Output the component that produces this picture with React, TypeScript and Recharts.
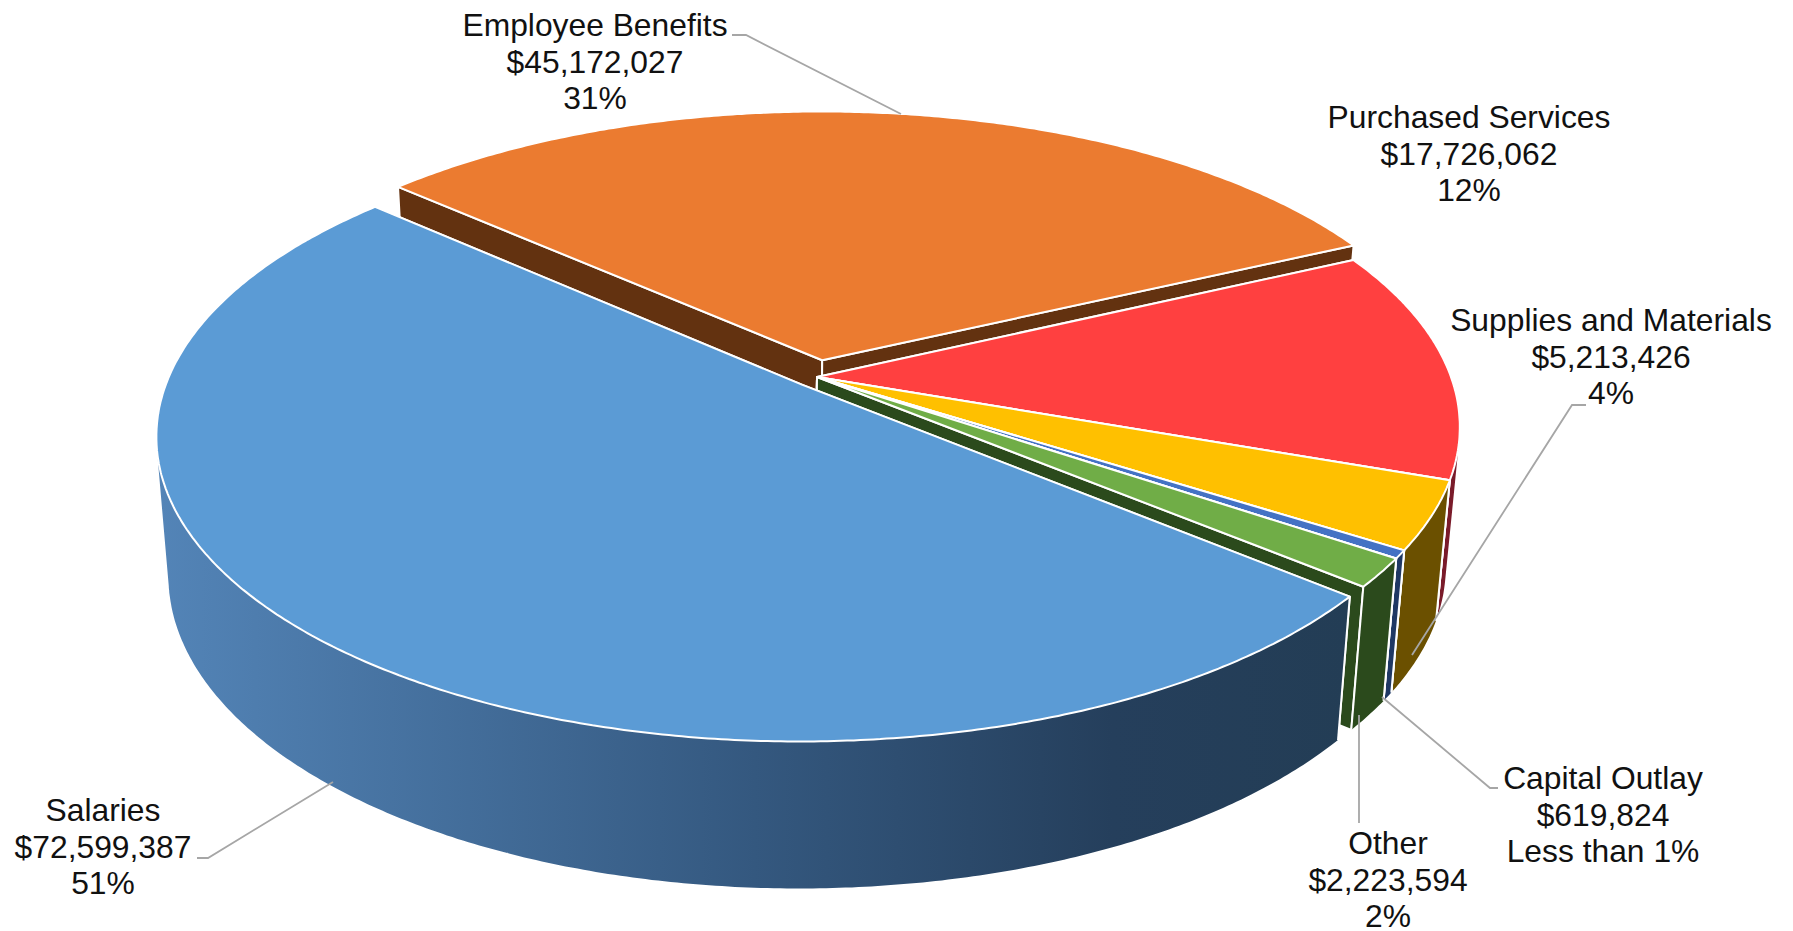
import { Pie, PieChart } from "recharts";

// Slices run clockwise starting from the back-left edge, so the front slice paints last.
const categories = ["Employee Benefits", "Purchased Services", "Supplies and Materials", "Capital Outlay", "Other", "Salaries"];
const amounts = [45172027, 17726062, 5213426, 619824, 2223594, 72599387];
const amountLabels = ["$45,172,027", "$17,726,062", "$5,213,426", "$619,824", "$2,223,594", "$72,599,387"];
const shareLabels = ["31%", "12%", "4%", "Less than 1%", "2%", "51%"];
const explosions = [0.058, 0, 0, 0, 0, 0.035];

const topColors = ["#EB7B30", "#FF4040", "#FFC000", "#4472C4", "#70AD47", "#5B9BD5"];
const wallColors = ["#633210", "#7A1B2A", "#6B5000", "#1F3864", "#2B4A1C", "url(#salaryWall)"];

// Label block centre and leader polyline for each slice
const labelCentres = [
  [595, 25],
  [1469, 117],
  [1611, 320],
  [1603, 778],
  [1388, 843],
  [103, 810],
];
const leaders = [
  "732,35 746,35 901,114",
  "",
  "1586,405 1572,405 1412,655",
  "1498,788 1490,788 1382,697",
  "1359,823 1359,715",
  "197,858 208,858 333,782",
];

const tableData = categories.map((name, i) => ({ name, value: amounts[i] }));

const CX = 817;
const CY = 377;
const RADIUS = 634;
const SQUASH = 0.4651; // vertical foreshortening of the disc
const PERSPECTIVE = 0.165;

type Pt = { x: number; y: number };

const project = (u: number, v: number): Pt => {
  const w = 1 - PERSPECTIVE * v;
  return { x: CX + (RADIUS * u) / w, y: CY + (RADIUS * SQUASH * v) / w };
};

// Where a point on the top face lands on the bottom face
const drop = (p: Pt): Pt => ({
  x: 760 + 0.98 * (p.x - 760),
  y: p.y + 147 + 0.025 * (p.y - 741),
});

const toPath = (pts: Pt[]) => "M" + pts.map((p) => `${p.x.toFixed(1)},${p.y.toFixed(1)}`).join("L") + "Z";

// Same winding for every strip, so the nonzero fill merges them without seams
const woundStrip = (a: Pt, b: Pt) => {
  const quad = [a, b, drop(b), drop(a)];
  let area = 0;
  quad.forEach((p, n) => {
    const q = quad[(n + 1) % 4];
    area += p.x * q.y - q.x * p.y;
  });
  return toPath(area < 0 ? quad.reverse() : quad);
};

function ThickSlice(props: any) {
  const { startAngle, endAngle } = props;
  const i = categories.indexOf(props.payload?.name ?? props.name);
  const mid = (((startAngle + endAngle) / 2) * Math.PI) / 180;
  const u0 = explosions[i] * Math.cos(mid);
  const v0 = -explosions[i] * Math.sin(mid);

  const arc: Pt[] = [];
  const front: Pt[] = []; // the part of the rim that faces the viewer
  const steps = Math.max(2, Math.ceil(Math.abs(startAngle - endAngle) * 2));
  for (let s = 0; s <= steps; s++) {
    const a = ((startAngle + ((endAngle - startAngle) * s) / steps) * Math.PI) / 180;
    const p = project(u0 + Math.cos(a), v0 - Math.sin(a));
    arc.push(p);
    if (-Math.sin(a) >= -0.05) front.push(p);
  }
  const apex = project(u0, v0);
  const first = arc[0];
  const last = arc[arc.length - 1];
  const wall = wallColors[i];
  const edges = [first, last].filter((p) => front.includes(p));
  const rimWall = front.slice(1).map((p, s) => woundStrip(front[s], p)).join("");

  return (
    <g stroke="#ffffff" strokeWidth={2} strokeLinejoin="round">
      <path d={toPath([apex, first, drop(first), drop(apex)])} fill={wall} />
      <path d={toPath([apex, last, drop(last), drop(apex)])} fill={wall} />
      {rimWall && <path d={rimWall} fill={wall} stroke="none" />}
      {edges.map((p, s) => (
        <line key={s} x1={p.x} y1={p.y} x2={drop(p).x} y2={drop(p).y} />
      ))}
      <path d={toPath([apex, ...arc])} fill={topColors[i]} />
    </g>
  );
}

function sliceLabel(props: any) {
  const i = props.index;
  const [x, y] = labelCentres[i];
  return (
    <g>
      {leaders[i] && <polyline points={leaders[i]} fill="none" stroke="#A6A6A6" strokeWidth={1.8} />}
      <text x={x} y={y + 11} textAnchor="middle" fontFamily="Liberation Sans" fontSize={31.8} fill="#111111" stroke="none">
        <tspan x={x}>{categories[i]}</tspan>
        <tspan x={x} dy={36.6}>{amountLabels[i]}</tspan>
        <tspan x={x} dy={36.6}>{shareLabels[i]}</tspan>
      </text>
    </g>
  );
}

export default function App() {
  return (
    <div style={{ position: "absolute", left: 0, top: 0, width: 1793, height: 931, background: "#fff" }}>
      <PieChart width={1793} height={931} margin={{ top: 0, right: 0, bottom: 0, left: 0 }}>
        <defs>
          <linearGradient id="salaryWall" gradientUnits="userSpaceOnUse" x1={160} y1={0} x2={1350} y2={0}>
            <stop offset="0" stopColor="#5384B7" />
            <stop offset="0.5" stopColor="#34587F" />
            <stop offset="0.8" stopColor="#253F5C" />
            <stop offset="1" stopColor="#233D55" />
          </linearGradient>
        </defs>
        <Pie
          data={tableData}
          dataKey="value"
          nameKey="name"
          cx={CX}
          cy={CY}
          innerRadius={0}
          outerRadius={RADIUS}
          startAngle={138.4}
          endAngle={-221.6}
          paddingAngle={0}
          shape={ThickSlice}
          label={sliceLabel}
          labelLine={false}
          isAnimationActive={false}
        />
      </PieChart>
    </div>
  );
}
